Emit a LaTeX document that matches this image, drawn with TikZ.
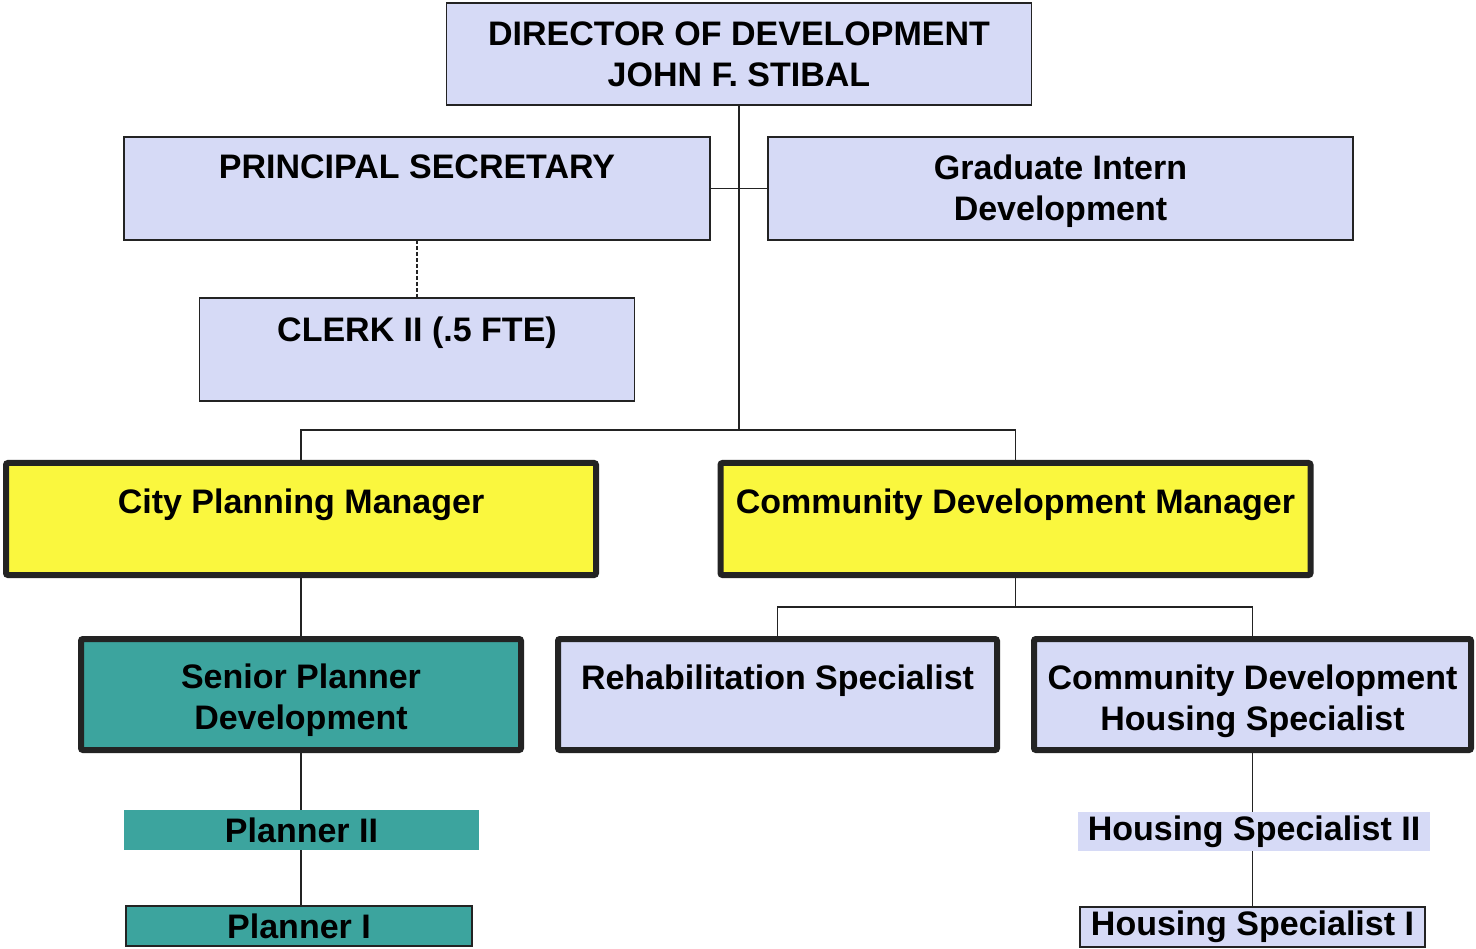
\documentclass[tikz,border=0pt]{standalone}
\usepackage{fontspec}
\setmainfont{Liberation Sans}
\definecolor{lav}{RGB}{214,218,246}
\definecolor{yel}{RGB}{250,247,62}
\definecolor{teal2}{RGB}{60,164,158}
\definecolor{edge}{RGB}{35,35,35}
\begin{document}
\begin{tikzpicture}[x=1pt,y=-1pt,
  every node/.style={inner sep=0pt,outer sep=0pt,align=center,
    font=\fontsize{34}{41}\selectfont\bfseries},
  tl/.style={text height=0pt,text depth=#1},
  tltwo/.style={text depth=0pt,text height=#1},
  thinbox/.style={draw=edge,line width=1.8pt,fill=lav},
  thickbox/.style={draw=edge,line width=6pt,rounded corners=2pt},
  flatbox/.style={fill=#1},
  conn/.style={line width=1.8pt,draw=edge}]
\useasboundingbox (0,0) rectangle (1476,949);
\fill[white] (0,0) rectangle (1476,949);
% top
\node[thinbox,tltwo=64.4pt,minimum width=585,minimum height=102] (dir) at (739,54) {DIRECTOR OF DEVELOPMENT\\JOHN F. STIBAL};
\node[thinbox,tl=19.6pt,minimum width=586,minimum height=103] (ps) at (417,188.5) {PRINCIPAL SECRETARY};
\node[thinbox,tltwo=63.4pt,minimum width=585,minimum height=103] (gi) at (1060.5,188.5) {Graduate Intern\\Development};
\node[thinbox,tl=16.6pt,minimum width=435,minimum height=103] (clerk) at (417,349.5) {CLERK II (.5 FTE)};
% managers
\node[thickbox,tl=11.6pt,fill=yel,minimum width=590,minimum height=112] (cpm) at (301,519) {City Planning Manager};
\node[thickbox,tl=11.6pt,fill=yel,minimum width=590,minimum height=112] (cdm) at (1015.5,519) {Community Development Manager};
% second level
\node[thickbox,tltwo=69.4pt,fill=teal2,minimum width=440,minimum height=111] (sp) at (301,694.5) {Senior Planner\\Development};
\node[thickbox,tl=10.6pt,fill=lav,minimum width=439,minimum height=111] (rehab) at (777.5,694.5) {Rehabilitation Specialist};
\node[thickbox,tltwo=71.4pt,fill=lav,minimum width=437,minimum height=111] (cdhs) at (1252.5,694.5) {Community Development\\Housing Specialist};
% bottom
\node[flatbox=teal2,minimum width=355,minimum height=40] (p2) at (301.5,830) {Planner II};
\node[flatbox=teal2,draw=edge,line width=1.6pt,minimum width=346,minimum height=40] (p1) at (299,926) {Planner I};
\node[flatbox=lav,minimum width=352,minimum height=39] (hs2) at (1254,831.5) {Housing Specialist II};
\node[flatbox=lav,draw=edge,line width=1.6pt,minimum width=345,minimum height=40] (hs1) at (1252.5,927) {Housing Specialist I};
% connectors
\coordinate (bus1) at (dir.south |- 0,430);
\coordinate (bus2) at (cdm.south |- 0,607);
\draw[conn] (dir.south) -- (bus1);
\draw[conn] (ps.east) -- (gi.west);
\draw[conn,dash pattern=on 4pt off 2pt] (ps.south) -- (clerk.north);
\draw[conn] (cpm.north) |- (bus1) -| (cdm.north);
\draw[conn] (cdm.south) -- (bus2);
\draw[conn] (rehab.north) |- (bus2) -| (cdhs.north);
\draw[conn] (cpm.south) -- (cpm.south |- sp.north);
\draw[conn] (sp.south) -- (sp.south |- p2.north);
\draw[conn] (sp.south |- p2.south) -- (sp.south |- p1.north);
\draw[conn] (cdhs.south) -- (cdhs.south |- hs2.north);
\draw[conn] (cdhs.south |- hs2.south) -- (cdhs.south |- hs1.north);
\end{tikzpicture}
\end{document}
